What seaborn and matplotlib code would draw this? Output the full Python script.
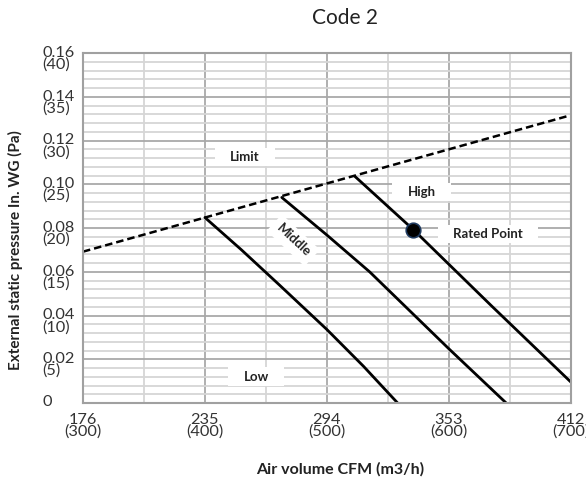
"""
Fan curve chart: external static pressure vs air volume (Code 2)
"""

import numpy as np
import pandas as pd
import matplotlib
matplotlib.use('Agg')
import matplotlib.pyplot as plt
import matplotlib.transforms as mtransforms
from matplotlib.path import Path
import seaborn as sns

# Data (air volume in m3/h, pressure in Pa)
limit_x = [300, 700]
limit_y = [17.3, 32.9]

low_x = [400, 430, 461, 500, 530, 558]
low_y = [21.2, 17.5, 13.5, 8.4, 4.2, 0.0]

middle_x = [463, 500, 535, 600, 647]
middle_y = [23.5, 19.2, 15.0, 6.2, 0.0]

high_x = [523, 571, 635, 700]
high_y = [25.9, 19.8, 11.1, 2.4]

rated_x = [571]
rated_y = [19.8]

x_ticks = [300, 400, 500, 600, 700]
x_labels = ['176\n(300)', '235\n(400)', '294\n(500)', '353\n(600)', '412\n(700)']
y_ticks = [0, 5, 10, 15, 20, 25, 30, 35, 40]
y_labels = ['0', '0.02\n(5)', '0.04\n(10)', '0.06\n(15)', '0.08\n(20)',
            '0.10\n(25)', '0.12\n(30)', '0.14\n(35)', '0.16\n(40)']

speeds = pd.concat([
    pd.DataFrame({'airflow': low_x, 'pressure': low_y, 'speed': 'Low'}),
    pd.DataFrame({'airflow': middle_x, 'pressure': middle_y, 'speed': 'Middle'}),
    pd.DataFrame({'airflow': high_x, 'pressure': high_y, 'speed': 'High'}),
], ignore_index=True)
limit = pd.DataFrame({'airflow': limit_x, 'pressure': limit_y})
rated = pd.DataFrame({'airflow': rated_x, 'pressure': rated_y})


def wide_box(x0, y0, width, height, mutation_size):
    """White label box, wider than tall"""
    px, py = 1.15 * mutation_size, 0.25 * mutation_size
    x0, y0 = x0 - px, y0 - py
    x1, y1 = x0 + width + 2 * px, y0 + height + 2 * py
    return Path([(x0, y0), (x1, y0), (x1, y1), (x0, y1), (x0, y0)], closed=True)


sns.set_style('white')
plt.rcParams['font.family'] = ['Lato', 'DejaVu Sans']

fig = plt.figure(figsize=(5.86, 4.83), dpi=100)
ax = fig.add_axes([0.1416, 0.1656, 0.8325, 0.7245])

# grid
ax.set_xlim(300, 700)
ax.set_ylim(0, 40)
ax.set_xticks(x_ticks)
ax.set_xticks(np.arange(350, 700, 100), minor=True)
ax.set_yticks(y_ticks)
ax.set_yticks(np.arange(0, 41, 1), minor=True)
ax.grid(which='minor', color='#d6d6d6', linewidth=1.3, zorder=0)
ax.grid(which='major', color='#a9a9a9', linewidth=1.3, zorder=0)
ax.set_axisbelow(True)
for s in ax.spines.values():
    s.set_color('#a0a0a0')
    s.set_linewidth(1.5)

# curves
sns.lineplot(data=speeds, x='airflow', y='pressure', units='speed', estimator=None,
             sort=False, color='black', linewidth=2.0, ax=ax, legend=False)
sns.lineplot(data=limit, x='airflow', y='pressure', color='black', linewidth=1.8,
             linestyle=(0, (3, 1.6)), ax=ax, legend=False)
sns.scatterplot(data=rated, x='airflow', y='pressure', s=110, color='black',
                edgecolor='#1f3a5f', linewidth=1.2, zorder=5, ax=ax, legend=False)

# labels on the chart
box = dict(boxstyle=wide_box, fc='white', ec='none')
lab = dict(fontsize=9.5, fontweight='bold', color='#222222', ha='center', va='center', bbox=box)
ax.text(433, 28.1, 'Limit', **lab)
ax.text(577.5, 24.1, 'High', **lab)
ax.text(632, 19.3, 'Rated Point', **lab)
ax.text(442, 3.0, 'Low', **lab)
ax.text(472.4, 18.6, 'Middle', rotation=-43, rotation_mode='anchor',
        fontsize=9.5, fontweight='bold', color='#222222', ha='center', va='center',
        bbox=dict(boxstyle='square,pad=0.4', fc='white', ec='none'))

# ticks
ax.tick_params(axis='both', which='both', length=0)
ax.set_xticklabels(x_labels, fontsize=11.8, color='#333333', linespacing=0.78)
ax.tick_params(axis='x', pad=7)
ax.set_yticklabels(y_labels, fontsize=11.8, color='#333333', linespacing=0.78)
ax.tick_params(axis='y', pad=29)
for t in ax.get_yticklabels():
    dy = -4 if '\n' in t.get_text() else 2
    shift = mtransforms.ScaledTranslation(0, dy / 72, fig.dpi_scale_trans)
    t.set_horizontalalignment('left')
    t.set_multialignment('left')
    t.set_transform(t.get_transform() + shift)

ax.set_xlabel('')
ax.set_ylabel('')
fig.text(0.580, 0.029, 'Air volume CFM (m3/h)', fontsize=11.5, fontweight='bold',
         color='#222222', ha='center', va='center')
fig.text(0.026, 0.482, 'External static pressure In. WG (Pa)', fontsize=11,
         fontweight='bold', color='#222222', ha='center', va='center', rotation=90)
fig.text(0.589, 0.962, 'Code 2', fontsize=15, color='#222222', ha='center', va='center')

fig.savefig('out.png', dpi=100)
